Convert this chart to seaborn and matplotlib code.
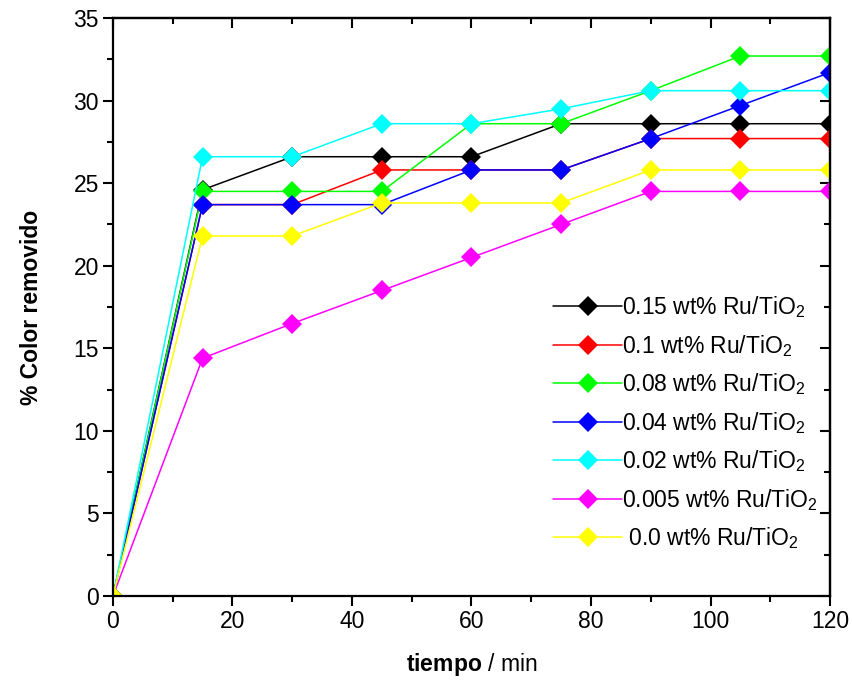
import matplotlib
matplotlib.use("Agg")
import matplotlib.pyplot as plt
import seaborn as sns
import pandas as pd

tiempo = [0, 15, 30, 45, 60, 75, 90, 105, 120]
s015 = [0, 24.6, 26.6, 26.6, 26.6, 28.6, 28.6, 28.6, 28.6]
s010 = [0, 23.7, 23.7, 25.8, 25.8, 25.8, 27.7, 27.7, 27.7]
s008 = [0, 24.5, 24.5, 24.5, 28.6, 28.6, 30.6, 32.7, 32.7]
s004 = [0, 23.7, 23.7, 23.7, 25.8, 25.8, 27.7, 29.7, 31.7]
s002 = [0, 26.6, 26.6, 28.6, 28.6, 29.5, 30.6, 30.6, 30.6]
s0005 = [0, 14.4, 16.5, 18.5, 20.5, 22.5, 24.5, 24.5, 24.5]
s000 = [0, 21.8, 21.8, 23.8, 23.8, 23.8, 25.8, 25.8, 25.8]

labels = ["0.15", "0.1", "0.08", "0.04", "0.02", "0.005", " 0.0"]
series = [s015, s010, s008, s004, s002, s0005, s000]
colors = ["#000000", "#ff0000", "#00ff00", "#0000ff", "#00ffff", "#ff00ff", "#ffff00"]

sns.set_theme(style="ticks")
plt.rcParams["font.family"] = ["Liberation Sans", "DejaVu Sans"]
plt.rcParams["mathtext.fontset"] = "custom"
plt.rcParams["mathtext.rm"] = "Liberation Sans"
plt.rcParams["mathtext.bf"] = "Liberation Sans:bold"
for k in ["text.color", "axes.labelcolor", "xtick.color", "ytick.color",
          "axes.edgecolor", "xtick.labelcolor", "ytick.labelcolor"]:
    plt.rcParams[k] = "black"

rows = []
for lab, vals in zip(labels, series):
    for t, v in zip(tiempo, vals):
        rows.append({"tiempo": t, "valor": v, "serie": lab})
df = pd.DataFrame(rows)

fig = plt.figure(figsize=(8.52, 6.83), dpi=100)
ax = fig.add_axes([0.1326, 0.1274, 0.9742 - 0.1326, 0.9736 - 0.1274])

for lab, col in zip(labels, colors):
    sub = df[df["serie"] == lab]
    sns.lineplot(data=sub, x="tiempo", y="valor", color=col, marker="D",
                 markersize=10, markeredgewidth=0, linewidth=1.1, ax=ax,
                 label=f"{lab} wt% Ru/TiO$_2$")

FS = 16.5
ax.set_xlim(0, 120)
ax.set_ylim(0, 35)
ax.set_xticks(range(0, 121, 20))
ax.set_xticks(range(10, 120, 20), minor=True)
ax.set_yticks(range(0, 36, 5))
ax.set_yticks([2.5 + 5 * i for i in range(7)], minor=True)
ax.tick_params(axis="both", which="major", direction="out", length=7, width=1.5,
               labelsize=FS, pad=3)
ax.tick_params(axis="both", which="minor", direction="out", length=4, width=1.5)
for sp in ax.spines.values():
    sp.set_linewidth(1.6)

axt = ax.secondary_xaxis("top")
axt.set_xticks(range(0, 121, 20))
axt.set_xticks(range(10, 120, 20), minor=True)
axt.tick_params(which="major", direction="in", length=7, width=1.5, labeltop=False)
axt.tick_params(which="minor", direction="in", length=4, width=1.5)
axt.set_xticklabels([])
axr = ax.secondary_yaxis("right")
axr.set_yticks(range(0, 36, 5))
axr.set_yticks([2.5 + 5 * i for i in range(7)], minor=True)
axr.tick_params(which="major", direction="in", length=7, width=1.5)
axr.tick_params(which="minor", direction="in", length=4, width=1.5)
axr.set_yticklabels([])
for a in (axt, axr):
    for sp in a.spines.values():
        sp.set_linewidth(1.6)

ax.set_xlabel(r"$\mathbf{tiempo}$ / min", fontsize=FS, labelpad=13)
ax.set_ylabel("% Color removido", fontsize=FS, fontweight="bold", labelpad=22)

leg = ax.legend(loc="upper left", frameon=False, fontsize=FS, handlelength=3.0,
                handletextpad=0.0, labelspacing=0.55, borderpad=0, borderaxespad=0,
                bbox_to_anchor=(0.614, 0.522))

fig.savefig("out.png", dpi=100)
